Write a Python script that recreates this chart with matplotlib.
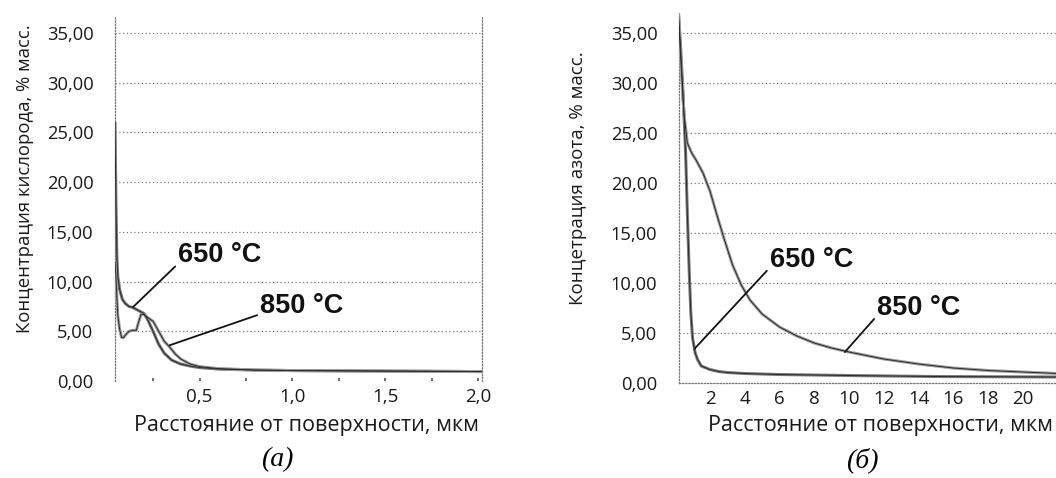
import matplotlib
matplotlib.use("Agg")
import matplotlib.pyplot as plt

# --- Oxygen profiles (panel a): depth, um / concentration, wt.% ---
o_650_x = [0.045, 0.05, 0.055, 0.06, 0.07, 0.085, 0.10, 0.12, 0.14, 0.16, 0.18, 0.20,
           0.22, 0.25, 0.28, 0.31, 0.35, 0.40, 0.45, 0.50, 0.60, 0.80, 1.00, 1.50, 2.02]
o_650_y = [26.0, 18.0, 12.5, 10.5, 9.2, 8.2, 7.8, 7.5, 7.4, 7.2, 7.0, 6.8,
           6.2, 5.0, 3.7, 2.8, 2.1, 1.7, 1.5, 1.35, 1.2, 1.1, 1.05, 1.0, 0.95]

o_850_x = [0.045, 0.05, 0.055, 0.06, 0.07, 0.08, 0.09, 0.10, 0.12, 0.14, 0.16, 0.17,
           0.185, 0.20, 0.22, 0.25, 0.28, 0.31, 0.34, 0.37, 0.40, 0.45, 0.50, 0.60,
           0.80, 1.00, 1.50, 2.02]
o_850_y = [12.0, 10.5, 8.5, 6.6, 5.2, 4.4, 4.35, 4.6, 5.0, 5.1, 5.1, 5.8,
           6.7, 6.7, 6.4, 6.0, 5.0, 4.0, 3.4, 2.7, 2.2, 1.7, 1.45, 1.25,
           1.1, 1.05, 1.0, 0.95]

# --- Nitrogen profiles (panel b) ---
n_650_x = [0.15, 0.3, 0.45, 0.6, 0.7, 0.8, 0.9, 1.0, 1.15, 1.3, 1.5, 2.0, 2.5, 3.0,
           4.0, 6.0, 10.0, 15.0, 22.0]
n_650_y = [38.0, 34.0, 29.0, 23.0, 17.0, 11.5, 7.0, 4.5, 3.0, 2.3, 1.7, 1.35, 1.15, 1.05,
           0.95, 0.85, 0.75, 0.65, 0.6]

n_850_x = [0.15, 0.3, 0.5, 0.7, 0.95, 1.2, 1.6, 2.0, 2.4, 2.8, 3.3, 3.8, 4.3, 5.0,
           6.0, 7.0, 8.0, 9.0, 10.0, 12.0, 14.0, 16.0, 18.0, 20.0, 22.0]
n_850_y = [38.0, 33.0, 27.0, 24.0, 23.0, 22.3, 21.0, 19.2, 16.8, 14.5, 11.8, 9.8, 8.3, 6.9,
           5.6, 4.7, 4.0, 3.5, 3.1, 2.4, 1.9, 1.5, 1.25, 1.1, 0.95]

y_ticks = [0, 5, 10, 15, 20, 25, 30, 35]
y_tick_labels = ["0,00", "5,00", "10,00", "15,00", "20,00", "25,00", "30,00", "35,00"]
a_x_ticks = [0.5, 1.0, 1.5, 2.0]
a_x_tick_labels = ["0,5", "1,0", "1,5", "2,0"]
a_x_minor = [0.25, 0.75, 1.25, 1.75]
b_x_ticks = [2, 4, 6, 8, 10, 12, 14, 16, 18, 20]
b_x_tick_labels = [str(t) for t in b_x_ticks]

label_650 = "650 °C"
label_850 = "850 °C"
x_title = "Расстояние от поверхности, мкм"
y_title_a = "Концентрация кислорода, % масс."
y_title_b = "Концетрация азота, % масс."

SANS = "Open Sans"
INK = "#1a1a1a"
GRID = dict(color="#7a7a7a", linewidth=0.9, linestyle=(0, (1, 2)))
TEXT_BOLD = dict(family="Liberation Sans", fontsize=19.5, fontweight="bold", color="#111111")

fig = plt.figure(figsize=(10.56, 4.78), dpi=100)
ax_a = fig.add_axes([0.1089, 0.2029, 0.3475, 0.7615])
ax_b = fig.add_axes([0.643, 0.1987, 0.357, 0.7741])


def profile(ax, x, y, light):
    body = "#a0a0a0" if light else "#7a7a7a"
    ax.plot(x, y, color=body, linewidth=2.2, solid_capstyle="round", zorder=3)
    ax.plot(x, y, color="#2a2a2a", linewidth=0.7, zorder=4)


def style(ax, ylim):
    ax.set_ylim(*ylim)
    ax.set_yticks(y_ticks)
    ax.set_yticklabels(y_tick_labels, family=SANS, fontsize=13.2, color=INK)
    for t in y_ticks[1:]:
        ax.axhline(t, zorder=1, **GRID)
    ax.tick_params(axis="y", length=0, pad=15.5)
    ax.tick_params(axis="x", which="both", length=2, width=1.2, color="#555555",
                   direction="in", pad=5)
    for s in ax.spines.values():
        s.set_linestyle((0, (1, 1.5)))
        s.set_color("#777777")
        s.set_linewidth(0.9)


arrow = dict(arrowstyle="-", color="#111111", linewidth=1.3, shrinkA=0, shrinkB=0)

# ---- panel (а): oxygen ----
profile(ax_a, o_650_x, o_650_y, light=False)
profile(ax_a, o_850_x, o_850_y, light=True)
ax_a.set_xlim(0.045, 2.02)
style(ax_a, (0, 36.6))
ax_a.spines["top"].set_visible(False)
ax_a.spines["bottom"].set_visible(False)
ax_a.set_xticks(a_x_ticks)
ax_a.set_xticklabels(a_x_tick_labels, family=SANS, fontsize=13.5, color=INK)
ax_a.set_xticks(a_x_minor, minor=True)
ax_a.set_xlabel(x_title, family=SANS, fontsize=15.5, color=INK)
ax_a.set_ylabel(y_title_a, family=SANS, fontsize=13.3, color=INK)
ax_a.xaxis.set_label_coords(0.523, -0.093)
ax_a.yaxis.set_label_coords(-0.222, 0.555)

ax_a.annotate(label_650, xy=(0.14, 7.4), xytext=(0.384, 12.7), ha="left", va="center",
              arrowprops=dict(relpos=(0.0, 0.15), **arrow), **TEXT_BOLD)
ax_a.annotate(label_850, xy=(0.34, 3.6), xytext=(0.825, 7.5), ha="left", va="center",
              arrowprops=dict(relpos=(0.0, 0.2), **arrow), **TEXT_BOLD)

# ---- panel (б): nitrogen ----
profile(ax_b, n_650_x, n_650_y, light=False)
profile(ax_b, n_850_x, n_850_y, light=True)
ax_b.set_xlim(0.22, 21.9)
style(ax_b, (0, 37))
ax_b.spines["top"].set_visible(False)
ax_b.spines["right"].set_visible(False)
ax_b.set_xticks(b_x_ticks)
ax_b.set_xticklabels(b_x_tick_labels, family=SANS, fontsize=13.5, color=INK)
ax_b.tick_params(axis="x", length=0)
ax_b.set_xlabel(x_title, family=SANS, fontsize=15.5, color=INK)
ax_b.set_ylabel(y_title_b, family=SANS, fontsize=13.5, color=INK)
ax_b.xaxis.set_label_coords(0.533, -0.086)
ax_b.yaxis.set_label_coords(-0.245, 0.554)

ax_b.annotate(label_650, xy=(1.1, 3.4), xytext=(5.43, 12.3), ha="left", va="center",
              arrowprops=dict(relpos=(0.0, 0.2), **arrow), **TEXT_BOLD)
ax_b.annotate(label_850, xy=(9.76, 3.1), xytext=(11.6, 7.5), ha="left", va="center",
              arrowprops=dict(relpos=(0.0, 0.2), **arrow), **TEXT_BOLD)

# panel captions
fig.text(277 / 1056, 1 - 460 / 478, "(а)", family="Liberation Serif", style="italic",
         fontsize=20, ha="center", va="center")
fig.text(862 / 1056, 1 - 460 / 478, "(б)", family="Liberation Serif", style="italic",
         fontsize=20, ha="center", va="center")

fig.savefig("out.png", dpi=100)
